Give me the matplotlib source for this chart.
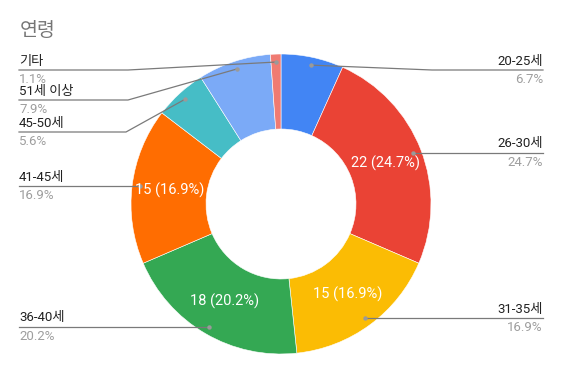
import numpy as np
import matplotlib
matplotlib.use("Agg")
import matplotlib.pyplot as plt

plt.rcParams['font.family'] = ['Roboto', 'Noto Sans CJK KR', 'DejaVu Sans']

title = "연령"
categories = ["20-25세", "26-30세", "31-35세", "36-40세", "41-45세", "45-50세", "51세 이상", "기타"]
values = [6, 22, 15, 18, 15, 5, 7, 1]
colors = ["#4285F4", "#EA4335", "#FBBC04", "#34A853", "#FF6D01", "#46BDC6", "#7BAAF7", "#F07B72"]

W, H = 562, 371
fig = plt.figure(figsize=(W / 100, H / 100), dpi=100)
ax = fig.add_axes([0, 0, 1, 1])

cx, cy = 281, H - 204
R = 150
wedges, _ = ax.pie(values, center=(cx, cy), radius=R, startangle=90, counterclock=False,
                   colors=colors, wedgeprops=dict(width=R * 0.5, edgecolor='white', linewidth=0.4),
                   frame=True)
ax.set_xlim(0, W)
ax.set_ylim(0, H)
ax.set_aspect('equal')
ax.axis('off')

total = sum(values)
# label layout: (side, line y in px from top or None = at dot, bend x)
layout = {
    0: ('R', 70, 432),
    1: ('R', None, None),
    2: ('R', None, None),
    3: ('L', None, None),
    4: ('L', None, None),
    5: ('L', 132, 126),
    6: ('L', 100, 128),
    7: ('L', 70, 128),
}
for i, w in enumerate(wedges):
    mid = np.deg2rad((w.theta1 + w.theta2) / 2)
    pct = 100 * values[i] / total
    dx, dy = cx + 0.947 * R * np.cos(mid), cy + 0.947 * R * np.sin(mid)
    side, ly, bx = layout[i]
    LY = dy if ly is None else H - ly
    if side == 'R':
        xe, ha, xt = 543, 'right', 543
    else:
        xe, ha, xt = 19, 'left', 19
    if bx is None:
        ax.plot([dx, xe], [LY, LY], color='#7a7a7a', lw=0.9, zorder=3)
    else:
        ax.plot([dx, bx, xe], [dy, LY, LY], color='#7a7a7a', lw=0.9, zorder=3)
    ax.plot([dx], [dy], 'o', ms=3.2, color='#9a9a9a', mec='none', zorder=4)
    ax.text(xt, LY + 2.5, categories[i], ha=ha, va='bottom', fontsize=9.5, color='#222222')
    ax.text(xt, LY - 3, f"{pct:.1f}%", ha=ha, va='top', fontsize=9.5, color='#9e9e9e')
    if pct > 10:
        r = 0.75 * R
        ax.text(cx + r * np.cos(mid), cy + r * np.sin(mid), f"{values[i]} ({pct:.1f}%)",
                ha='center', va='center', fontsize=10.5, color='white', zorder=5)

ax.text(20, H - 31, title, ha='left', va='center', fontsize=14, color='#757575',
        fontweight='light')

fig.savefig("out.png", dpi=100, facecolor='white')
